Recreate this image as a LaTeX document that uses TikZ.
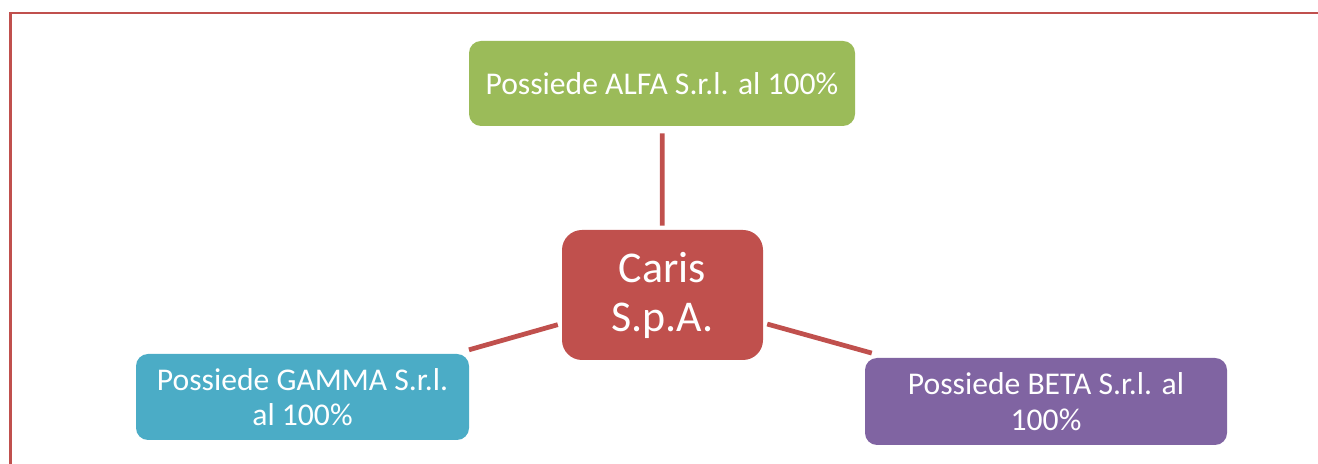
\documentclass[tikz,border=0pt]{standalone}
\usepackage{fontspec}
\setmainfont{Carlito}
\usetikzlibrary{shapes}

\definecolor{frame}{HTML}{C0504D}
\definecolor{redbox}{HTML}{C0504D}
\definecolor{greenbox}{HTML}{9BBB59}
\definecolor{bluebox}{HTML}{4BACC6}
\definecolor{purplebox}{HTML}{8064A2}

\tikzset{
  box/.style={shape=rectangle,rounded corners=0.24cm,align=center,text=white,inner sep=0pt,font=\fontsize{18}{20.3}\selectfont},
  link/.style={-,draw=redbox,line width=2.7pt}
}

\begin{document}
\begin{tikzpicture}
\useasboundingbox (0,0) rectangle (26.36,-9.28);
\draw[frame,line width=1.4pt] (0.21,-9.4) -- (0.21,-0.26) -- (26.5,-0.26);

\node[box,fill=greenbox,minimum width=7.72cm,minimum height=1.70cm] (alfa) at (13.24,-1.67) {Possiede ALFA S.r.l. al 100\%};
\node[box,fill=redbox,rounded corners=0.4cm,minimum width=4.02cm,minimum height=2.60cm,font=\fontsize{25}{27.9}\selectfont] (caris) at (13.25,-5.90) {Caris\\S.p.A.};
\node[box,fill=bluebox,minimum width=6.66cm,minimum height=1.72cm] (gamma) at (6.05,-7.94) {Possiede GAMMA S.r.l.\\al 100\%};
\node[box,fill=purplebox,minimum width=7.24cm,minimum height=1.74cm] (beta) at (20.92,-8.03) {Possiede BETA S.r.l. al\\100\%};

\path [link,shorten <=0.08cm,shorten >=0.14cm] (caris) edge (alfa);
\path [link,shorten <=0.08cm,shorten >=0.28cm] (caris) edge (gamma);
\path [link,shorten <=0.08cm,shorten >=0.34cm] (caris) edge (beta);
\end{tikzpicture}
\end{document}
